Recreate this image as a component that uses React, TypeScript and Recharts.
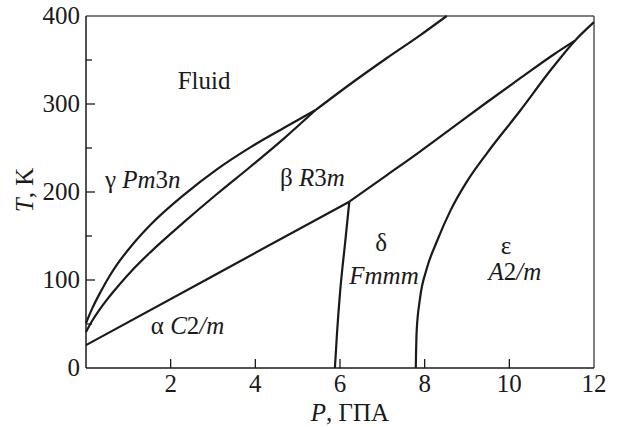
import React from 'react'
import {
  LineChart,
  Line,
  XAxis,
  YAxis,
  ReferenceLine,
  ReferenceDot,
  Label
} from 'recharts'

// phase boundaries, P in GPa and T in K
const fluidGammaP = [0, 0.15, 0.35, 0.55, 0.74, 1.13, 1.53, 2.32, 3.1, 3.89, 4.68, 5.42]
const fluidGammaT = [51, 68, 87, 104, 118, 142, 163, 197, 226, 251, 273, 293]

const gammaBetaP = [0, 0.15, 0.3, 0.5, 0.74, 1.13, 1.53, 2.32, 3.1, 3.89, 4.68, 5.42]
const gammaBetaT = [41, 54, 65, 78, 92, 113, 132, 166, 198, 229, 261, 293]

const fluidBetaP = [5.42, 6.31, 7.1, 7.89, 8.52]
const fluidBetaT = [293, 325, 352, 378, 400]

const alphaBetaLowP = [0, 3.0, 6.22]
const alphaBetaLowT = [26, 104.6, 189]

const betaDeltaP = [6.22, 7.1, 7.89, 8.68, 9.47, 10.25, 11.04, 11.55]
const betaDeltaT = [189, 219, 246, 274, 302, 329, 356, 372]

const alphaDeltaP = [5.88, 5.93, 6.0, 6.12, 6.22]
const alphaDeltaT = [0, 40, 85, 142, 189]

const deltaEpsP = [7.79, 7.81, 7.89, 8.05, 8.29, 8.6, 9.0, 9.47, 10.25, 11.0, 11.55, 12]
const deltaEpsT = [0, 41, 79, 113, 144, 178, 212, 244, 292, 340, 372, 393]

const xTicks = [0, 2, 4, 6, 8, 10, 12]
const yTicks = [0, 50, 100, 150, 200, 250, 300, 350, 400]

const zip = (ps: number[], ts: number[]) => ps.map((p, i) => ({ p, t: ts[i] }))

const curves = [
  zip(fluidGammaP, fluidGammaT),
  zip(gammaBetaP, gammaBetaT),
  zip(fluidBetaP, fluidBetaT),
  zip(alphaBetaLowP, alphaBetaLowT),
  zip(betaDeltaP, betaDeltaT),
  zip(alphaDeltaP, alphaDeltaT),
  zip(deltaEpsP, deltaEpsT)
]

// phase names: [text, italic]
type Part = [string, boolean]
const phaseLabels: { p: number; t: number; parts: Part[] }[] = [
  { p: 2.79, t: 317, parts: [['Fluid', false]] },
  { p: 1.34, t: 204, parts: [['γ ', false], ['Pm', true], ['3', false], ['n', true]] },
  { p: 5.35, t: 207, parts: [['β ', false], ['R', true], ['3', false], ['m', true]] },
  { p: 6.97, t: 133, parts: [['δ', false]] },
  { p: 7.04, t: 96, parts: [['Fmmm', true]] },
  { p: 9.92, t: 130, parts: [['ε', false]] },
  { p: 10.13, t: 100, parts: [['A', true], ['2', false], ['/m', true]] },
  { p: 2.4, t: 39, parts: [['α ', false], ['C', true], ['2', false], ['/m', true]] }
]

const FONT = '"Liberation Serif", "Times New Roman", Times, serif'
const INK = '#1a1a1a'
const txt = { fontFamily: FONT, fontSize: 25 }

const XTick = (props: any) => {
  const { x, y, payload } = props
  const v = payload.value
  return (
    <g>
      {v > 0 && v < 12 && <line x1={x} x2={x} y1={y} y2={y - 9} stroke={INK} strokeWidth={1.3} />}
      {v !== 0 && (
        <text x={x} y={y + 24} textAnchor="middle" style={txt} fill={INK}>
          {v}
        </text>
      )}
    </g>
  )
}

const YTick = (props: any) => {
  const { x, y, payload } = props
  const v = payload.value
  const major = v % 100 === 0
  return (
    <g>
      {v > 0 && v < 400 && (
        <line x1={x} x2={x + (major ? 9 : 6)} y1={y} y2={y} stroke={INK} strokeWidth={1.3} />
      )}
      {major && (
        <text x={x - 6} y={y + 8} textAnchor="end" style={txt} fill={INK}>
          {v}
        </text>
      )}
    </g>
  )
}

const PhaseText = (parts: Part[]) => (props: any) => (
  <text x={props.cx} y={props.cy} textAnchor="middle" style={txt} fill={INK}>
    {parts.map(([s, it], i) => (
      <tspan key={i} style={{ fontStyle: it ? 'italic' : 'normal' }}>
        {s}
      </tspan>
    ))}
  </text>
)

export default function App() {
  return (
    <div style={{ position: 'absolute', left: 0, top: 0, width: 617, height: 427, background: '#fff' }}>
      <LineChart width={617} height={427} margin={{ top: 16, right: 23, bottom: 0, left: 0 }}>
        <XAxis
          type="number"
          dataKey="p"
          domain={[0, 12]}
          ticks={xTicks}
          interval={0}
          height={59}
          tickSize={0}
          tickMargin={0}
          tickLine={false}
          axisLine={{ stroke: INK, strokeWidth: 1.5 }}
          tick={<XTick />}
          allowDuplicatedCategory={false}
        >
          <Label
            content={() => (
              <text x={350} y={421} textAnchor="middle" style={txt} fill={INK}>
                <tspan style={{ fontStyle: 'italic' }}>P</tspan>
                <tspan>, ГПА</tspan>
              </text>
            )}
          />
        </XAxis>
        <YAxis
          type="number"
          dataKey="t"
          domain={[0, 400]}
          ticks={yTicks}
          interval={0}
          width={86}
          tickSize={0}
          tickMargin={0}
          tickLine={false}
          axisLine={{ stroke: INK, strokeWidth: 1.5 }}
          tick={<YTick />}
        >
          <Label
            content={() => (
              <text x={33} y={190} transform="rotate(-90 33 190)" textAnchor="middle" style={txt} fill={INK}>
                <tspan style={{ fontStyle: 'italic' }}>T</tspan>
                <tspan>, K</tspan>
              </text>
            )}
          />
        </YAxis>
        <ReferenceLine y={400} stroke="#555" strokeWidth={1.5} />
        <ReferenceLine x={12} stroke="#555" strokeWidth={1.5} />
        {curves.map((d, i) => (
          <Line
            key={i}
            data={d}
            dataKey="t"
            type="monotone"
            stroke={INK}
            strokeWidth={2.2}
            dot={false}
            activeDot={false}
            isAnimationActive={false}
          />
        ))}
        {phaseLabels.map((l, i) => (
          <ReferenceDot key={i} x={l.p} y={l.t} r={0} shape={PhaseText(l.parts)} />
        ))}
      </LineChart>
    </div>
  )
}
